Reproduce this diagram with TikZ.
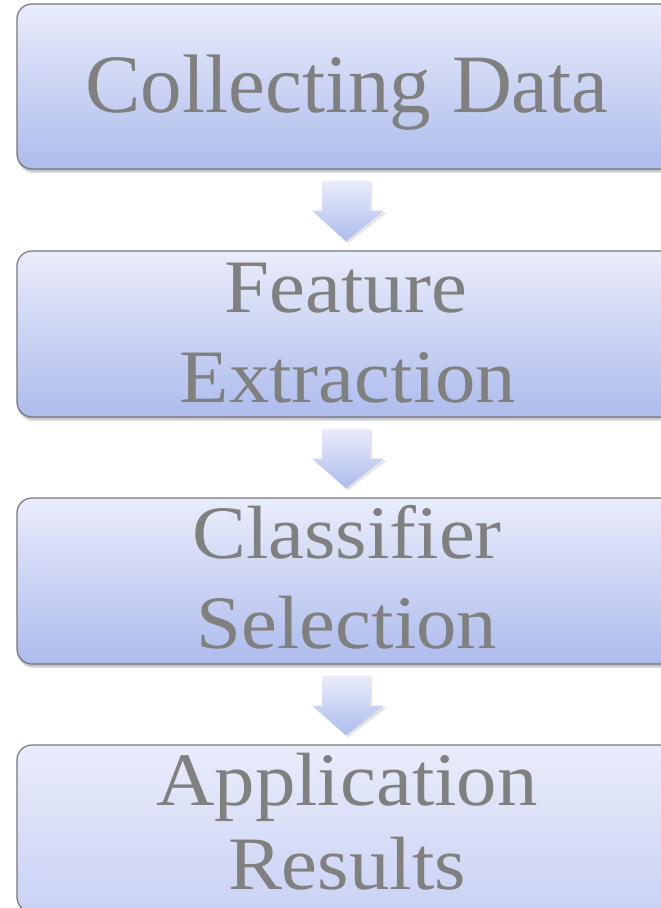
\documentclass[tikz,border=0pt]{standalone}
\usepackage{fontspec}
\setmainfont{Liberation Serif}
\newfontfamily\widefont[FakeStretch=1.07]{Liberation Serif}
\usetikzlibrary{calc}
\definecolor{boxtop}{RGB}{233,236,250}
\definecolor{boxbot}{RGB}{174,188,237}
\definecolor{boxmid}{RGB}{202,210,244}
\definecolor{edgegray}{RGB}{118,118,128}
\definecolor{txtgray}{RGB}{128,128,128}
\tikzset{
  stagebox/.style={rectangle, rounded corners=15pt, draw=edgegray, line width=1.2pt,
    top color=boxtop, bottom color=boxbot, minimum width=663pt, inner sep=0pt},
  lblbig/.style={text=txtgray, font=\fontsize{83}{90}\selectfont, inner sep=0pt, anchor=base},
  lbl/.style={text=txtgray, font=\widefont\fontsize{75.5}{90}\selectfont, inner sep=0pt, anchor=base},
}
\newcommand{\downblock}[2]{%
  \fill[black, opacity=0.10]
    ($(#1.south)+(-26.5+2,13)$) -- ($(#1.south)+(21.5+2,13)$) --
    ($(#1.south)+(21.5+2,43)$) -- ($(#1.south)+(35.5+3,43)$) --
    ($(#2.north)+(-2.5+2,-7)$) -- ($(#1.south)+(-36.5+2,43)$) --
    ($(#1.south)+(-26.5+2,43)$) -- cycle;
  \shade[top color=boxtop, bottom color=boxbot]
    ($(#1.south)+(-26.5,11)$) -- ($(#1.south)+(21.5,11)$) --
    ($(#1.south)+(21.5,41)$) -- ($(#1.south)+(35.5,41)$) --
    ($(#2.north)+(-2.5,-9)$) -- ($(#1.south)+(-36.5,41)$) --
    ($(#1.south)+(-26.5,41)$) -- cycle;
}
\begin{document}
\begin{tikzpicture}[x=1pt,y=-1pt]
\useasboundingbox (0,0) rectangle (661,908);
\fill[white] (0,0) rectangle (661,908);
\foreach \yt/\yb in {4/169, 251/417, 498/664, 745/912}{
  \fill[black, opacity=0.12, rounded corners=15pt] (18,\yt+3) rectangle (682,\yb+4);
  \fill[black, opacity=0.12, rounded corners=15pt] (18,\yt+2) rectangle (681,\yb+2.5);
}
\node[stagebox, minimum height=165pt] (b1) at (348.5,86.5) {};
\node[stagebox, minimum height=166pt] (b2) at (348.5,334) {};
\node[stagebox, minimum height=166pt] (b3) at (348.5,581) {};
\node[stagebox, minimum height=167pt, bottom color=boxmid] (b4) at (348.5,828.5) {};

\node[lblbig] (t1) at (347,112) {Collecting Data};
\node[lbl] (t2a) at (346,312) {Feature};
\node[lbl] (t2b) at (348,402) {Extraction};
\node[lbl] (t3a) at (347,558) {Classifier};
\node[lbl] (t3b) at (347,648) {Selection};
\node[lbl] (t4a) at (347,805) {Application};
\node[lbl] (t4b) at (347,889) {Results};

\downblock{b1}{b2}
\downblock{b2}{b3}
\downblock{b3}{b4}
\end{tikzpicture}
\end{document}
